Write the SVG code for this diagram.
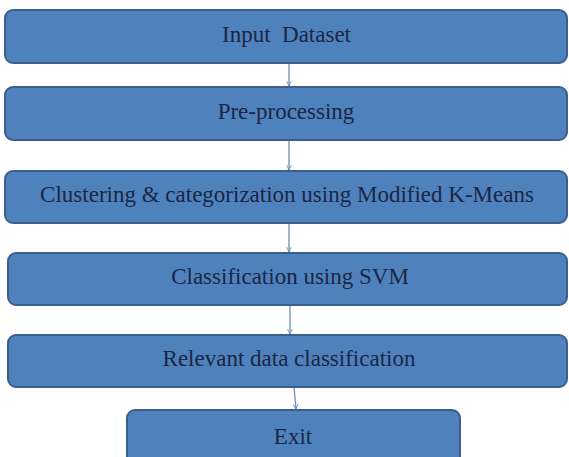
<svg xmlns="http://www.w3.org/2000/svg" width="569" height="457" viewBox="0 0 569 457">
  <style>
    .box { fill: #4F81BD; stroke: #3A5F8E; stroke-width: 2; }
    .shadow { fill: #9AA9BE; opacity: 0.45; }
    .lbl { font-family: "Liberation Serif", "Times New Roman", serif; font-size: 23px; fill: #1A2744; text-anchor: middle; }
    .conn { stroke: #6F8DB5; stroke-width: 1.3; fill: none; marker-end: url(#arr); }
  </style>
  <defs>
    <marker id="arr" viewBox="0 0 10 10" refX="9" refY="5" markerWidth="6" markerHeight="6" orient="auto" markerUnits="userSpaceOnUse">
      <path d="M1,1 L9,5 L1,9" fill="none" stroke="#6F8DB5" stroke-width="1.5"/>
    </marker>
  </defs>
  <rect width="569" height="457" fill="#FFFFFF"/>
  <g id="connectors">
    <line class="conn" x1="289" y1="64" x2="289" y2="86"/>
    <line class="conn" x1="289" y1="141" x2="289" y2="170"/>
    <line class="conn" x1="289" y1="224" x2="289" y2="252"/>
    <line class="conn" x1="290" y1="306" x2="290" y2="334"/>
    <line class="conn" x1="294" y1="388" x2="296" y2="409"/>
  </g>
  <g id="n1">
    <rect class="box" x="5" y="10" width="562" height="53" rx="8"/>
    <text class="lbl" x="286.5" y="42" xml:space="preserve">Input  Dataset</text>
  </g>
  <g id="n2">
    <rect class="box" x="5" y="87" width="562" height="53" rx="8"/>
    <text class="lbl" x="286" y="119">Pre-processing</text>
  </g>
  <g id="n3">
    <rect class="box" x="5" y="171" width="562" height="52" rx="8"/>
    <text class="lbl" x="287" y="202">Clustering &amp; categorization using Modified K-Means</text>
  </g>
  <g id="n4">
    <rect class="box" x="8" y="253" width="559" height="52" rx="8"/>
    <text class="lbl" x="290" y="284">Classification using SVM</text>
  </g>
  <g id="n5">
    <rect class="box" x="8" y="335" width="559" height="52" rx="8"/>
    <text class="lbl" x="289" y="366">Relevant data classification</text>
  </g>
  <g id="n6">
    <rect class="box" x="127" y="410" width="333" height="60" rx="8"/>
    <text class="lbl" x="293" y="444">Exit</text>
  </g>
</svg>
